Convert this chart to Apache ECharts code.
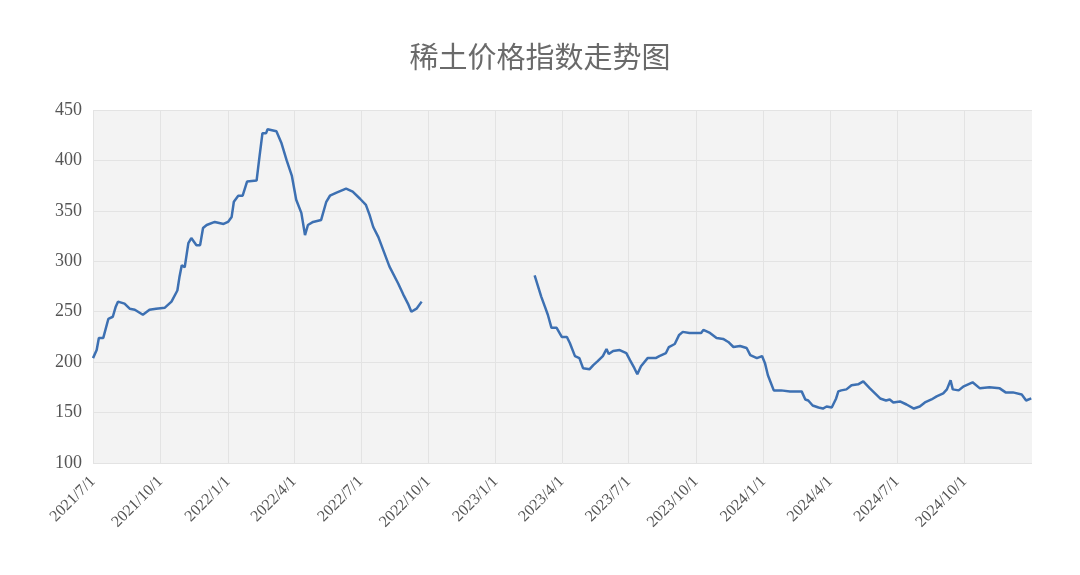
<!DOCTYPE html>
<html>
<head>
<meta charset="utf-8">
<title>稀土价格指数走势图</title>
<script src="https://cdn.jsdelivr.net/npm/echarts@6/dist/echarts.min.js"></script>
<style>
  html, body { margin: 0; padding: 0; background: #fff; }
  #main { width: 1080px; height: 575px; }
</style>
</head>
<body>
<div id="main"></div>
<script>
// 第一段 2021/7 - 2022/9
var dates1 = ['2021-07-01', '2021-07-03', '2021-07-06', '2021-07-09', '2021-07-15', '2021-07-22', '2021-07-28',
  '2021-08-01', '2021-08-04', '2021-08-13', '2021-08-20', '2021-08-27', '2021-09-07', '2021-09-16', '2021-09-25',
  '2021-10-07', '2021-10-16', '2021-10-24', '2021-10-27', '2021-10-30', '2021-11-03', '2021-11-08', '2021-11-12',
  '2021-11-19', '2021-11-24', '2021-11-28', '2021-12-03', '2021-12-14', '2021-12-26', '2022-01-01', '2022-01-06',
  '2022-01-09', '2022-01-15', '2022-01-21', '2022-01-24', '2022-01-27', '2022-02-09', '2022-02-13', '2022-02-17',
  '2022-02-22', '2022-02-24', '2022-03-08', '2022-03-15', '2022-03-22', '2022-03-29', '2022-04-04', '2022-04-11',
  '2022-04-16', '2022-04-20', '2022-04-27', '2022-05-08', '2022-05-15', '2022-05-20', '2022-05-29', '2022-06-11',
  '2022-06-20', '2022-06-30', '2022-07-08', '2022-07-13', '2022-07-18', '2022-07-25', '2022-08-09', '2022-08-21',
  '2022-08-28', '2022-09-04', '2022-09-08', '2022-09-15', '2022-09-22'];
var values1 = [204, 205, 212, 224, 224, 243, 245,
  255, 260, 258, 253, 252, 247, 252, 253,
  254, 260, 271, 285, 296, 294, 318, 323,
  316, 316, 333, 336, 339, 337, 339, 344,
  359, 365, 365, 372, 379, 380, 404, 427,
  427, 431, 429, 417, 400, 385, 361, 348,
  326, 336, 339, 341, 359, 365, 368, 372,
  369, 362, 356, 346, 334, 324, 295, 278,
  267, 257, 250, 253, 260];

// 第二段 2023/2 - 2024/12
var dates2 = ['2023-02-23', '2023-03-04', '2023-03-09', '2023-03-13', '2023-03-18', '2023-03-25', '2023-04-01',
  '2023-04-08', '2023-04-12', '2023-04-19', '2023-04-25', '2023-04-30', '2023-05-09', '2023-05-14', '2023-05-20',
  '2023-05-27', '2023-06-01', '2023-06-04', '2023-06-10', '2023-06-19', '2023-06-28', '2023-07-03', '2023-07-09',
  '2023-07-13', '2023-07-18', '2023-07-27', '2023-08-07', '2023-08-12', '2023-08-21', '2023-08-25', '2023-09-02',
  '2023-09-08', '2023-09-13', '2023-09-22', '2023-10-08', '2023-10-11', '2023-10-20', '2023-10-29', '2023-11-07',
  '2023-11-14', '2023-11-21', '2023-11-30', '2023-12-09', '2023-12-14', '2023-12-23', '2023-12-30', '2024-01-03',
  '2024-01-07', '2024-01-15', '2024-01-25', '2024-02-06', '2024-02-22', '2024-02-27', '2024-03-02', '2024-03-08',
  '2024-03-16', '2024-03-22', '2024-03-27', '2024-04-03', '2024-04-09', '2024-04-12', '2024-04-16', '2024-04-23',
  '2024-04-30', '2024-05-09', '2024-05-16', '2024-05-25', '2024-06-01', '2024-06-08', '2024-06-16', '2024-06-21',
  '2024-06-26', '2024-07-05', '2024-07-14', '2024-07-24', '2024-08-01', '2024-08-08', '2024-08-17', '2024-08-24',
  '2024-09-02', '2024-09-07', '2024-09-12', '2024-09-15', '2024-09-23', '2024-09-30', '2024-10-12', '2024-10-22',
  '2024-11-04', '2024-11-18', '2024-11-26', '2024-12-06', '2024-12-18', '2024-12-24', '2024-12-31'];
var values2 = [286, 265, 255, 247, 234, 234, 225,
  225, 219, 206, 204, 194, 193, 197, 201,
  206, 213, 208, 211, 212, 209, 202, 194,
  188, 196, 204, 204, 206, 209, 215, 218,
  227, 230, 229, 229, 232, 229, 224, 223,
  220, 215, 216, 214, 207, 204, 206, 199,
  187, 172, 172, 171, 171, 163, 162, 157,
  155, 154, 156, 155, 164, 171, 172, 173,
  177, 178, 181, 174, 169, 164, 162, 163,
  160, 161, 158, 154, 156, 160, 163, 166,
  169, 173, 182, 173, 172, 176, 180, 174,
  175, 174, 170, 170, 168, 162, 164];

var xTickLabels = ['2021/7/1', '2021/10/1', '2022/1/1', '2022/4/1', '2022/7/1', '2022/10/1', '2023/1/1',
  '2023/4/1', '2023/7/1', '2023/10/1', '2024/1/1', '2024/4/1', '2024/7/1', '2024/10/1'];
var yMin = 100, yMax = 450, yStep = 50;
var xStart = '2021/7/1', xEnd = '2025/1/1';

function toTime(s) { return new Date(s.replace(/-/g, '/')).getTime(); }
function fmt(v) {
  var d = new Date(v);
  return d.getFullYear() + '/' + (d.getMonth() + 1) + '/' + d.getDate();
}
function pairs(ds, vs) {
  return ds.map(function (d, i) { return [toTime(d), vs[i]]; });
}

var tickTimes = xTickLabels.map(toTime);
var lineColor = '#3d70b2';
var textColor = '#555555';
var gridColor = '#e3e3e3';

var myChart = echarts.init(document.getElementById('main'));
var option = {
  animation: false,
  title: {
    text: '稀土价格指数走势图',
    left: 'center',
    top: 37,
    textStyle: {
      fontFamily: 'Noto Sans CJK SC',
      fontWeight: 'normal',
      fontSize: 29,
      color: '#6a6a6a'
    }
  },
  grid: {
    left: 93, right: 48, top: 110, bottom: 112,
    show: true,
    backgroundColor: '#f3f3f3',
    borderWidth: 0
  },
  xAxis: {
    type: 'value',
    min: toTime(xStart),
    max: toTime(xEnd),
    axisLine: { show: false },
    axisTick: { show: false, customValues: tickTimes },
    axisLabel: {
      customValues: tickTimes,
      formatter: function (v) { return fmt(v); },
      rotate: 45,
      margin: 16,
      fontFamily: 'Liberation Serif',
      fontSize: 16,
      color: textColor
    },
    splitLine: { show: true, lineStyle: { color: gridColor, width: 1 } }
  },
  yAxis: {
    type: 'value',
    min: yMin,
    max: yMax,
    interval: yStep,
    axisLine: { show: false },
    axisTick: { show: false },
    axisLabel: {
      margin: 11,
      fontFamily: 'Liberation Serif',
      fontSize: 18,
      color: textColor
    },
    splitLine: { show: true, lineStyle: { color: gridColor, width: 1 } }
  },
  series: [
    {
      type: 'line',
      data: pairs(dates1, values1),
      showSymbol: false,
      lineStyle: { color: lineColor, width: 2.5 }
    },
    {
      type: 'line',
      data: pairs(dates2, values2),
      showSymbol: false,
      lineStyle: { color: lineColor, width: 2.5 }
    }
  ]
};
myChart.setOption(option);
</script>
</body>
</html>
